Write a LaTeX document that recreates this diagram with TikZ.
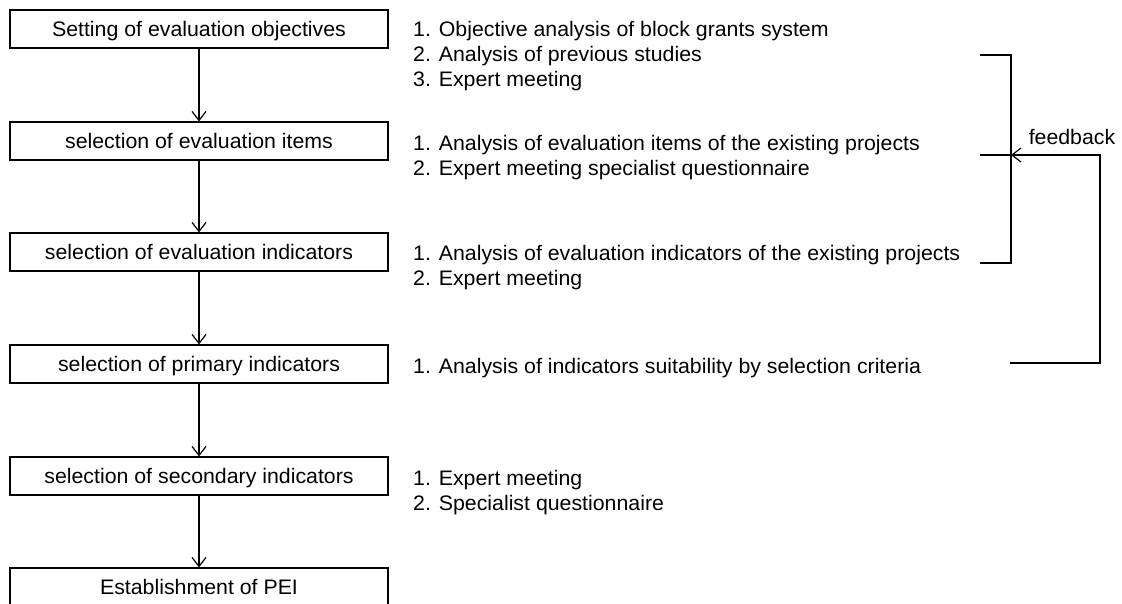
\documentclass[tikz,border=0pt]{standalone}
\usepackage{fontspec}
\setmainfont[FakeStretch=1.015]{Liberation Sans}
\usetikzlibrary{arrows.meta}
\begin{document}
\begin{tikzpicture}[x=1pt,y=-1pt,
  stepbox/.style={draw, line width=1.2pt, minimum width=378pt, minimum height=38pt, inner sep=0pt,
    text height=15pt, text depth=0pt, font=\fontsize{21}{25}\selectfont},
  note/.style={anchor=base west, inner sep=0pt, font=\fontsize{21}{25}\selectfont},
  flow/.style={line width=1.2pt, -{Straight Barb[length=9pt,width=14pt,line width=1.2pt]}},
  plain/.style={line width=1.2pt}]
\useasboundingbox (0,0) rectangle (1122,604);
% process boxes
\node[stepbox] (s1) at (199,29) {Setting of evaluation objectives};
\node[stepbox] (s2) at (199,141) {selection of evaluation items};
\node[stepbox] (s3) at (199,252) {selection of evaluation indicators};
\node[stepbox] (s4) at (199,364) {selection of primary indicators};
\node[stepbox] (s5) at (199,476) {selection of secondary indicators};
\node[stepbox] (s6) at (199,587) {Establishment of PEI};
\draw[flow] (s1) -- (s2);
\draw[flow] (s2) -- (s3);
\draw[flow] (s3) -- (s4);
\draw[flow] (s4) -- (s5);
\draw[flow] (s5) -- (s6);
% notes
\node[note] (g1a) at (413,36.5) {1. Objective analysis of block grants system};
\node[note] (g1b) at (413,61.5) {2. Analysis of previous studies};
\node[note] (g1c) at (413,86.5) {3. Expert meeting};
\node[note] (g2a) at (413,150.5) {1. Analysis of evaluation items of the existing projects};
\node[note] (g2b) at (413,175.5) {2. Expert meeting specialist questionnaire};
\node[note] (g3a) at (413,260.5) {1. Analysis of evaluation indicators of the existing projects};
\node[note] (g3b) at (413,285.5) {2. Expert meeting};
\node[note] (g4a) at (413,373.5) {1. Analysis of indicators suitability by selection criteria};
\node[note] (g5a) at (413,485.5) {1. Expert meeting};
\node[note] (g5b) at (413,510.5) {2. Specialist questionnaire};
% feedback bracket
\node[inner sep=0pt, font=\fontsize{21}{25}\selectfont] (fb) at (1072,137) {feedback};
\coordinate (bt) at (980,55);
\coordinate (bc) at (1011,55);
\coordinate (bb) at (1011,263);
\coordinate (bl) at (980,263);
\coordinate (mid) at (980,155);
\coordinate (hit) at (1011,155);
\coordinate (ls) at (1010,363);
\coordinate (lr) at (1100,363);
\coordinate (lt) at (1100,155);
\draw[plain] (bt) -- (bc) -- (bb) -- (bl);
\draw[plain] (mid) -- (hit);
\draw[flow] (ls) -- (lr) -- (lt) -- (hit);
\end{tikzpicture}
\end{document}
